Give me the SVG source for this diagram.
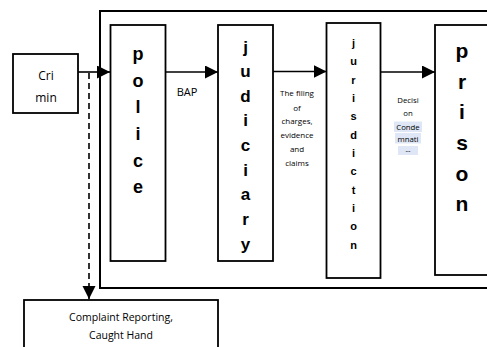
<svg xmlns="http://www.w3.org/2000/svg" width="487" height="347" viewBox="0 0 487 347">
  <style>
    .box { fill: #fff; stroke: #000; stroke-width: 1.8; }
    .frame { fill: none; stroke: #000; stroke-width: 2; }
    .link { fill: none; stroke: #000; stroke-width: 1.6; }
    .dash { stroke-dasharray: 6 4; }
    .big { font-family: "Liberation Sans", Arial, sans-serif; font-weight: bold; text-anchor: middle; fill: #000; }
    .lbl { font-family: "Open Sans", "Liberation Sans", sans-serif; text-anchor: middle; fill: #000; }
    .hl { fill: #dfe7f6; }
  </style>
  <defs>
    <marker id="head" markerUnits="userSpaceOnUse" markerWidth="14" markerHeight="14" refX="13" refY="6.5" orient="auto">
      <path d="M0,0 L13,6.5 L0,13 Z" fill="#000"/>
    </marker>
  </defs>

  <!-- surrounding frame of the justice chain -->
  <path class="frame" d="M490,11 H100 V288 H490"/>

  <g id="crimin">
    <rect class="box" x="13" y="54" width="65" height="59"/>
    <text class="lbl" x="46" y="79.5" font-size="12">Cri</text>
    <text class="lbl" x="46" y="101.5" font-size="12">min</text>
  </g>

  <g id="police">
    <rect class="box" x="110.5" y="25" width="55" height="236"/>
    <g class="big" font-size="18">
      <text x="138" y="60">p</text>
      <text x="138" y="86.5">o</text>
      <text x="138" y="113">l</text>
      <text x="138" y="140">i</text>
      <text x="138" y="166.5">c</text>
      <text x="138" y="193">e</text>
    </g>
  </g>

  <g id="judiciary">
    <rect class="box" x="218" y="25" width="55" height="236"/>
    <g class="big" font-size="17">
      <text x="245.5" y="52.5">j</text>
      <text x="245.5" y="77">u</text>
      <text x="245.5" y="101.5">d</text>
      <text x="245.5" y="126">i</text>
      <text x="245.5" y="151">c</text>
      <text x="245.5" y="175.5">i</text>
      <text x="245.5" y="200">a</text>
      <text x="245.5" y="225">r</text>
      <text x="245.5" y="249.5">y</text>
    </g>
  </g>

  <g id="jurisdiction">
    <rect class="box" x="326.5" y="23" width="54" height="255"/>
    <g class="big" font-size="11">
      <text x="353.5" y="47">j</text>
      <text x="353.5" y="65">u</text>
      <text x="353.5" y="83.5">r</text>
      <text x="353.5" y="102">i</text>
      <text x="353.5" y="120">s</text>
      <text x="353.5" y="138.5">d</text>
      <text x="353.5" y="157">i</text>
      <text x="353.5" y="175">c</text>
      <text x="353.5" y="193.5">t</text>
      <text x="353.5" y="212">i</text>
      <text x="353.5" y="230">o</text>
      <text x="353.5" y="248.5">n</text>
    </g>
  </g>

  <g id="prison">
    <rect class="box" x="435" y="25" width="60" height="250"/>
    <g class="big" font-size="21">
      <text x="462" y="58">p</text>
      <text x="462" y="88.5">r</text>
      <text x="462" y="119">i</text>
      <text x="462" y="150">s</text>
      <text x="462" y="180.5">o</text>
      <text x="462" y="211">n</text>
    </g>
  </g>

  <g id="complaint">
    <rect class="box" x="24" y="300" width="194" height="60"/>
    <text class="lbl" x="121" y="321" font-size="10.5">Complaint Reporting,</text>
    <text class="lbl" x="121" y="339" font-size="10.5">Caught Hand</text>
  </g>

  <g id="connectors">
    <line class="link" x1="78" y1="72" x2="110" y2="72" marker-end="url(#head)"/>
    <line class="link dash" x1="89" y1="73" x2="89" y2="299" marker-end="url(#head)"/>
    <line class="link" x1="165.5" y1="72" x2="218" y2="72" marker-end="url(#head)"/>
    <line class="link" x1="273" y1="71.5" x2="326.5" y2="71.5" marker-end="url(#head)"/>
    <line class="link" x1="380.5" y1="72" x2="435" y2="72" marker-end="url(#head)"/>
  </g>

  <g id="labels">
    <text class="lbl" x="187" y="96" font-size="11">BAP</text>
    <g class="lbl" font-size="8">
      <text x="297" y="96">The filing</text>
      <text x="297" y="110.5">of</text>
      <text x="297" y="124">charges,</text>
      <text x="297" y="138">evidence</text>
      <text x="297" y="152">and</text>
      <text x="297" y="165.5">claims</text>
    </g>
    <rect class="hl" x="394" y="121.5" width="28" height="10.5"/>
    <rect class="hl" x="395" y="133" width="26" height="10.5"/>
    <rect class="hl" x="398" y="146" width="20" height="9"/>
    <g class="lbl" font-size="7.8">
      <text x="408" y="103">Decisi</text>
      <text x="408" y="115.5">on</text>
      <text x="408" y="129.5">Conde</text>
      <text x="408" y="141.5">mnati</text>
      <text x="408" y="153">--</text>
    </g>
  </g>
</svg>
